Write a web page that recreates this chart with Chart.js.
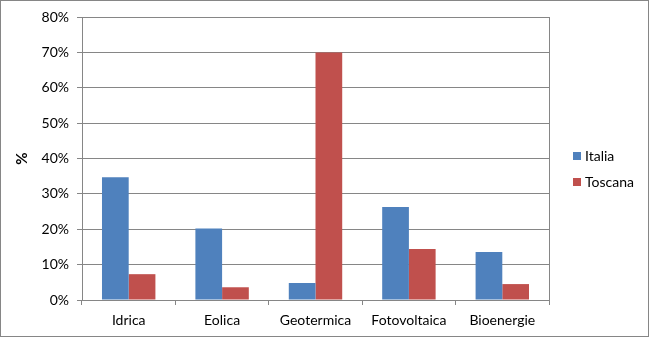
<!DOCTYPE html>
<html>
<head>
<meta charset="utf-8">
<script src="https://cdn.jsdelivr.net/npm/chart.js@4/dist/chart.umd.min.js"></script>
<style>
  html, body { margin: 0; padding: 0; background: #fff; }
  #wrap { width: 650px; height: 338px; position: relative; }
</style>
</head>
<body>
<div id="wrap"><canvas id="myChart" width="650" height="338"></canvas></div>
<script>
// energy sources and share (%) for each area
const categories = ["Idrica", "Eolica", "Geotermica", "Fotovoltaica", "Bioenergie"];
const italia = [34.7, 20.2, 4.8, 26.3, 13.6];
const toscana = [7.3, 3.6, 70.0, 14.4, 4.5];
const seriesNames = ["Italia", "Toscana"];
const seriesColors = ["#4F81BD", "#C0504D"];

const gridColor = "#868686";
const fontFamily = "Lato, 'Liberation Sans', sans-serif";

Chart.defaults.font.family = fontFamily;
Chart.defaults.font.size = 14;
Chart.defaults.color = "#000";

// outer frame, plot border on the right and a side legend
const framePlugin = {
  id: "frame",
  afterDraw(chart) {
    const c = chart.ctx;
    const area = chart.chartArea;
    c.save();
    c.strokeStyle = gridColor;
    c.lineWidth = 1;
    c.beginPath();
    c.moveTo(Math.round(area.right) + 0.5, area.top);
    c.lineTo(Math.round(area.right) + 0.5, area.bottom + 5);
    c.stroke();
    c.strokeRect(0.5, 0.5, chart.width - 2, chart.height - 2);

    // legend
    c.font = "14px " + fontFamily;
    c.textBaseline = "middle";
    chart.data.datasets.forEach((ds, i) => {
      const x = area.right + 24;
      const y = 156 + i * 26;
      c.fillStyle = ds.backgroundColor;
      c.fillRect(x, y - 4, 8, 8);
      c.fillStyle = "#000";
      c.fillText(ds.label, x + 12, y);
    });
    c.restore();
  }
};

let ctx = document.getElementById("myChart").getContext("2d");
let chart = new Chart(ctx, {
  type: "bar",
  data: {
    labels: categories,
    datasets: [
      { label: seriesNames[0], backgroundColor: seriesColors[0], data: italia },
      { label: seriesNames[1], backgroundColor: seriesColors[1], data: toscana }
    ]
  },
  options: {
    responsive: false,
    animation: false,
    layout: { padding: { left: 10, right: 101, top: 17, bottom: 0 } },
    categoryPercentage: 0.572,
    barPercentage: 1.0,
    plugins: {
      legend: { display: false },
      tooltip: { enabled: false }
    },
    scales: {
      x: {
        grid: { drawOnChartArea: false, color: gridColor, tickLength: 5 },
        border: { color: gridColor },
        ticks: { padding: 7, maxRotation: 0 },
        afterFit(scale) { scale.height = 38; }
      },
      y: {
        min: 0,
        max: 80,
        ticks: {
          stepSize: 10,
          padding: 8,
          callback: (v) => v + "%"
        },
        grid: { color: gridColor, tickLength: 5 },
        border: { color: gridColor },
        title: { display: true, text: "%", font: { size: 15, weight: "bold" }, padding: { top: 3, bottom: 4 } },
        afterFit(scale) { scale.width = 72; }
      }
    }
  },
  plugins: [framePlugin]
});
</script>
</body>
</html>
